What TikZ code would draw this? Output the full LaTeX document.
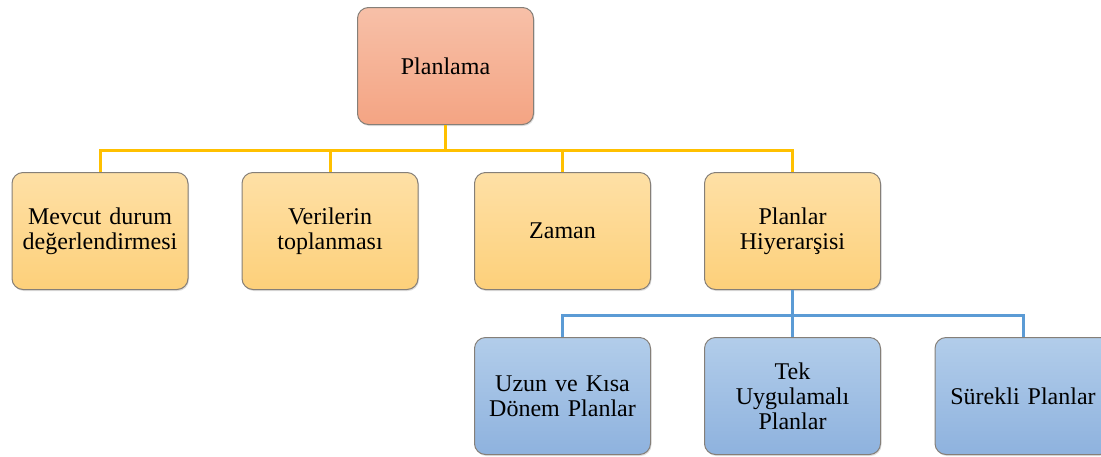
\documentclass[tikz,border=0pt]{standalone}
\usepackage{fontspec}
\setmainfont{Liberation Serif}
\usetikzlibrary{shadows}
\definecolor{rtop}{HTML}{F7C0A8}
\definecolor{rbot}{HTML}{F4A483}
\definecolor{otop}{HTML}{FEE0A6}
\definecolor{obot}{HTML}{FDD07A}
\definecolor{btop}{HTML}{B2CDEA}
\definecolor{bbot}{HTML}{8EB2DE}
\definecolor{edgegray}{HTML}{857F78}
\definecolor{yel}{HTML}{FFC000}
\definecolor{blu}{HTML}{5B9BD5}
\tikzset{
  boxbase/.style={rounded corners=11pt, draw=edgegray, line width=1pt,
    minimum width=176pt, minimum height=117pt, text width=172pt, align=center,
    font=\fontsize{24}{25}\selectfont, inner sep=0pt,
    drop shadow={opacity=0.25, shadow xshift=1pt, shadow yshift=-1.5pt}},
  redbox/.style={boxbase, top color=rtop, bottom color=rbot},
  orbox/.style={boxbase, top color=otop, bottom color=obot},
  blbox/.style={boxbase, top color=btop, bottom color=bbot},
  yline/.style={draw=yel, line width=3pt},
  bline/.style={draw=blu, line width=3pt}
}
\begin{document}
\begin{tikzpicture}[x=1pt,y=-1pt]
\useasboundingbox (0,0) rectangle (1101,456);
\node[redbox] (top) at (445.5,66) {Planlama};
\node[orbox] (b1) at (100,231) {Mevcut durum\\değerlendirmesi};
\node[orbox] (b2) at (330,231) {Verilerin\\toplanması};
\node[orbox] (b3) at (562.5,231) {Zaman};
\node[orbox] (b4) at (792.5,231) {Planlar\\Hiyerarşisi};
\node[blbox] (c1) at (562.5,396) {Uzun ve Kısa\\Dönem Planlar};
\node[blbox] (c2) at (792.5,396) {Tek\\Uygulamalı\\Planlar};
\node[blbox] (c3) at (1023,396) {Sürekli Planlar};
\coordinate (ybus) at ([yshift=-25pt]top.south);
\coordinate (bbus) at ([yshift=-25pt]b4.south);
\foreach \n in {b1,b2,b3,b4} \draw[yline] (top.south) -- (ybus) -| (\n.north);
\foreach \n in {c1,c2,c3} \draw[bline] (b4.south) -- (bbus) -| (\n.north);
\end{tikzpicture}
\end{document}
